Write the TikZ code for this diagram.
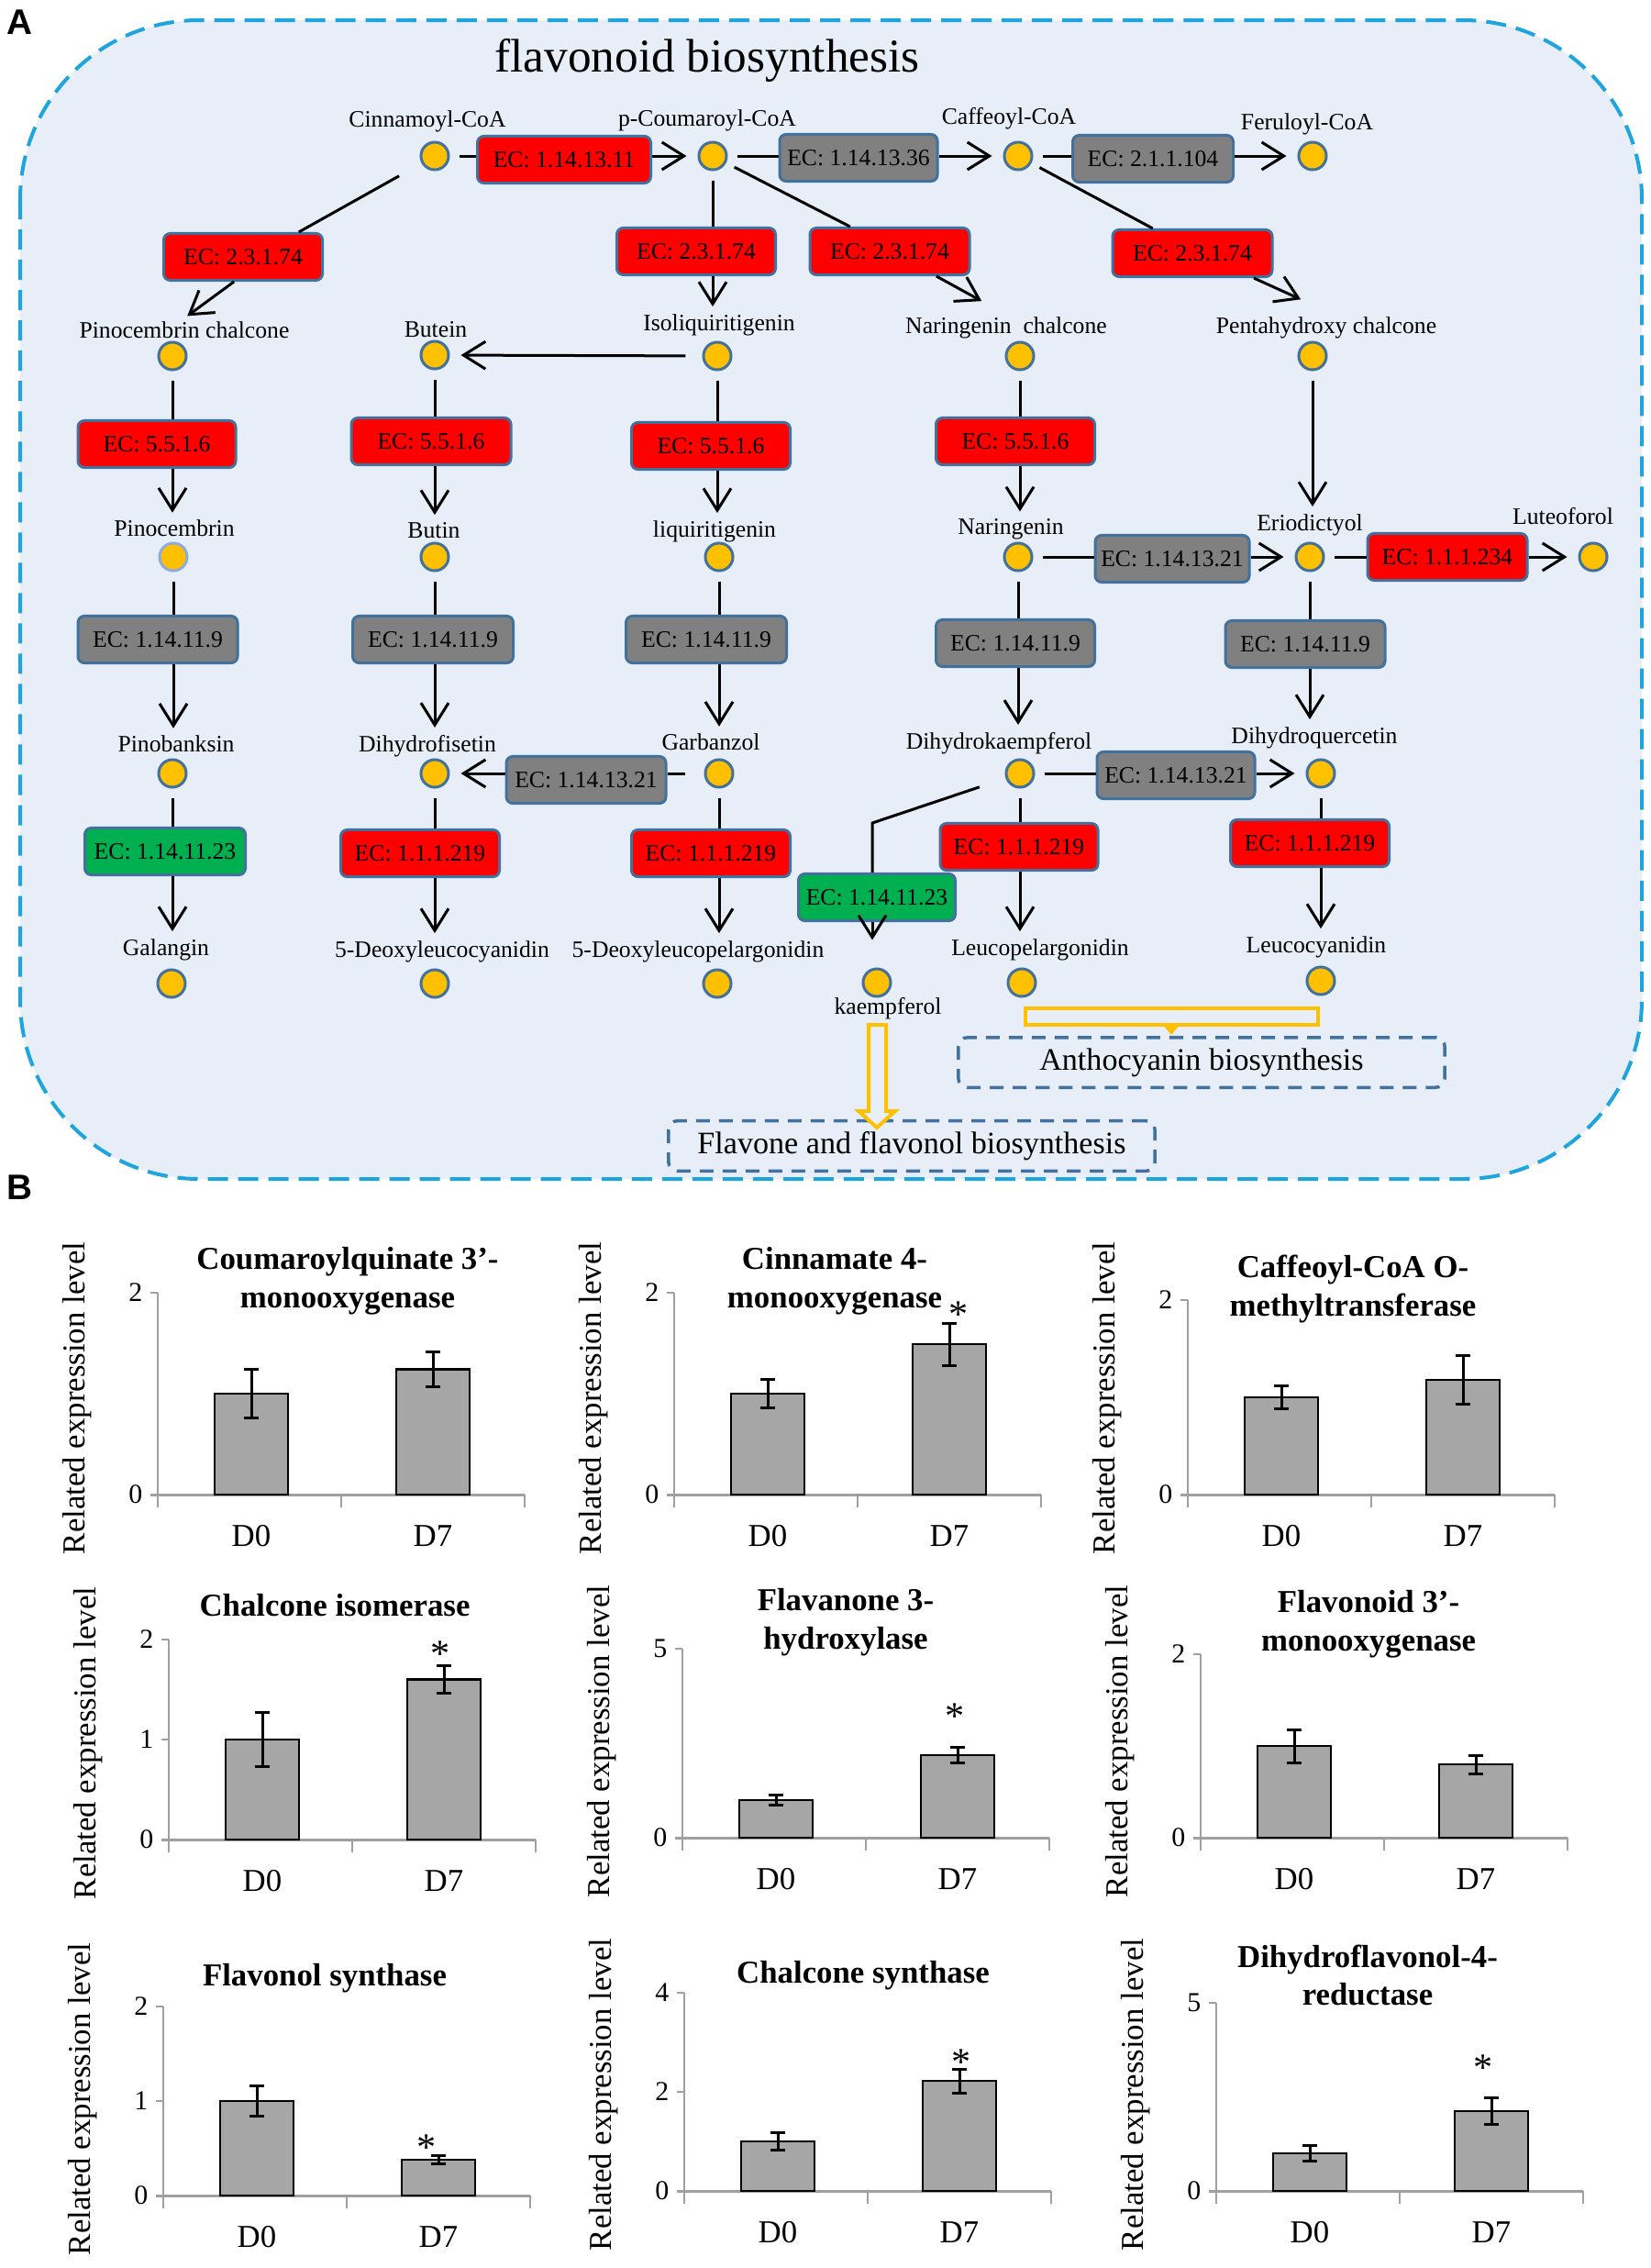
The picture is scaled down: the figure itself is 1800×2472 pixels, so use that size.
\documentclass[tikz,border=0pt]{standalone}
\usepackage{fontspec}
\setmainfont{Liberation Serif}
\newfontfamily\panelsans{Liberation Sans}
\usetikzlibrary{arrows.meta}

\definecolor{bgblue}{HTML}{E7EEF8}
\definecolor{outerdash}{HTML}{1EA5DD}
\definecolor{ecborder}{HTML}{41719C}
\definecolor{paleborder}{HTML}{8FAADC}
\definecolor{redfill}{HTML}{FF0000}
\definecolor{greyfill}{HTML}{808080}
\definecolor{greenfill}{HTML}{00B050}
\definecolor{metfill}{HTML}{FFC000}
\definecolor{barfill}{HTML}{A6A6A6}
\definecolor{axisgrey}{HTML}{A0A0A0}

\newcommand{\ecsize}{\fontsize{7.3pt}{8.5pt}\selectfont}
\newcommand{\pathsize}{\fontsize{9.7pt}{11pt}\selectfont}
\newcommand{\headsize}{\fontsize{14.6pt}{17pt}\selectfont}
\newcommand{\chartsize}{\fontsize{9.9pt}{11.9pt}\selectfont}
\newcommand{\ticksize}{\fontsize{8.5pt}{10pt}\selectfont}

\tikzset{
	outerbox/.style={draw=outerdash, fill=bgblue, line width=0.04cm, dash pattern=on 0.22cm off 0.11cm, rounded corners=1.95cm},
	met/.style={circle, fill=metfill, line width=0.03cm, minimum size=0.3cm, inner sep=0pt},
	mettext/.style={font=\ecsize, inner sep=1pt},
	ec/.style={draw=ecborder, line width=0.03cm, rounded corners=0.07cm, minimum height=0.51cm, inner sep=0pt, font=\ecsize},
	react/.style={line width=0.03cm, shorten <=0.1cm},
	conv/.style={line width=0.03cm, -{Straight Barb[length=0.24cm,width=0.3cm]}, shorten >=0.12cm},
	yellowline/.style={draw=metfill, line width=0.04cm},
	pathbox/.style={draw=ecborder, line width=0.035cm, dash pattern=on 0.15cm off 0.1cm, rounded corners=0.1cm, minimum width=5.3cm, minimum height=0.51cm, font=\pathsize},
	axisline/.style={draw=axisgrey, line width=0.015cm},
	zeroline/.style={draw=axisgrey, line width=0.03cm},
	bar/.style={fill=barfill, draw=black, line width=0.025cm},
	errbar/.style={draw=black, line width=0.03cm},
	ticktext/.style={font=\ticksize, inner sep=0pt},
	cattext/.style={font=\chartsize, inner sep=0pt},
	charttitle/.style={font=\chartsize\bfseries, align=center, inner sep=0pt},
	startext/.style={font=\fontsize{12pt}{14pt}\selectfont, inner sep=0pt}
}

% x of axis, y of zero line, px per unit, ticks, top, D0, D0 error, D7, D7 error
\newcommand{\exprchart}[9]{%
	\begin{scope}[shift={(#1,#2)}]
		%axis
		\draw[axisline] (0,14) -- (0,{-#5*#3});
		\draw[zeroline] (-8,0) -- (400,0);
		\foreach \c in {0,200,400}
		\draw[axisline] (\c,0) -- (\c,14);
		\foreach \t in {#4} {
			\draw[axisline] (-8,{-\t*#3}) -- (0,{-\t*#3});
			\node[ticktext, anchor=east] (tick-#1-#2-\t) at (-16,{-\t*#3}) {\t};
		}
		%bars
		\foreach \bx/\bv/\be/\bn in {102/#6/#7/D0,300/#8/#9/D7} {
			\draw[bar] (\bx-40,0) rectangle (\bx+40,{-\bv*#3});
			\draw[errbar] (\bx,{-(\bv-\be)*#3}) -- (\bx,{-(\bv+\be)*#3});
			\draw[errbar] (\bx-8,{-(\bv-\be)*#3}) -- (\bx+8,{-(\bv-\be)*#3});
			\draw[errbar] (\bx-8,{-(\bv+\be)*#3}) -- (\bx+8,{-(\bv+\be)*#3});
			\node[cattext] (\bn-#1-#2) at (\bx,45) {\bn};
		}
		%label
		\node[cattext, rotate=90] (ylab-#1-#2) at (-88,-105) {Related expression level};
	\end{scope}}

\begin{document}
\begin{tikzpicture}[x=0.01cm, y=-0.01cm]
	\useasboundingbox (0,0) rectangle (1800,2472);
	\fill[white] (0,0) rectangle (1800,2472);
	
	%pathway frame
	\draw[outerbox] (22,22) rectangle (1790,1285);
	\node[font=\headsize] (head) at (771,66) {flavonoid biosynthesis};
	
	%metabolites
	\foreach \n/\x/\y/\lx/\ly/\t/\bc in {
		cin/474/170/466/132/Cinnamoyl-CoA/ecborder,
		pcou/777/170/771/131/p-Coumaroyl-CoA/ecborder,
		caf/1110/170/1100/129/Caffeoyl-CoA/ecborder,
		fer/1431/170/1425/135/Feruloyl-CoA/ecborder,
		pcc/188/388/201/360/Pinocembrin chalcone/ecborder,
		but/474/387/475/359/Butein/ecborder,
		iso/782/388/784/354/Isoliquiritigenin/ecborder,
		ncc/1112/388/1097/357/Naringenin\ \ chalcone/ecborder,
		phc/1431/388/1446/357/Pentahydroxy chalcone/ecborder,
		pin/189/607/190/576/Pinocembrin/paleborder,
		buti/474/607/473/578/Butin/ecborder,
		liq/784/607/779/579/liquiritigenin/ecborder,
		nar/1110/607/1102/577/Naringenin/ecborder,
		eri/1428/607/1428/572/Eriodictyol/ecborder,
		lut/1737/607/1704/563/Luteoforol/ecborder,
		pnb/188/843/192/811/Pinobanksin/ecborder,
		dhf/474/843/466/813/Dihydrofisetin/ecborder,
		gar/784/843/775/809/Garbanzol/ecborder,
		dhk/1112/843/1089/810/Dihydrokaempferol/ecborder,
		dhq/1440/843/1433/804/Dihydroquercetin/ecborder,
		gal/187/1072/181/1035/Galangin/ecborder,
		dlc/474/1072/482/1037/5-Deoxyleucocyanidin/ecborder,
		dlp/782/1072/761/1037/5-Deoxyleucopelargonidin/ecborder,
		kae/956/1071/968/1099/kaempferol/ecborder,
		lpg/1114/1071/1134/1035/Leucopelargonidin/ecborder,
		lcy/1440/1069/1435/1032/Leucocyanidin/ecborder} {
		\node[met, draw=\bc] (\n) at (\x,\y) {};
		\node[mettext] (\n L) at (\lx,\ly) {\t};
	}
	
	%enzymes
	\foreach \n/\c/\w/\x/\y/\t in {
		e1/redfill/189/615/174/EC: 1.14.13.11,
		e2/greyfill/172/936/172/EC: 1.14.13.36,
		e3/greyfill/175/1257/173/EC: 2.1.1.104,
		e4/redfill/173/265/280/EC: 2.3.1.74,
		e5/redfill/173/759/274/EC: 2.3.1.74,
		e6/redfill/174/970/274/EC: 2.3.1.74,
		e7/redfill/174/1300/276/EC: 2.3.1.74,
		e8/redfill/172/171/484/EC: 5.5.1.6,
		e9/redfill/174/470/481/EC: 5.5.1.6,
		e10/redfill/173/775/486/EC: 5.5.1.6,
		e11/redfill/173/1107/481/EC: 5.5.1.6,
		e12/greyfill/168/1278/609/EC: 1.14.13.21,
		e13/redfill/174/1578/607/EC: 1.1.1.234,
		e14/greyfill/174/172/697/EC: 1.14.11.9,
		e15/greyfill/175/472/697/EC: 1.14.11.9,
		e16/greyfill/175/770/697/EC: 1.14.11.9,
		e17/greyfill/173/1107/701/EC: 1.14.11.9,
		e18/greyfill/174/1423/702/EC: 1.14.11.9,
		e19/greenfill/175/180/928/EC: 1.14.11.23,
		e20/redfill/173/458/930/EC: 1.1.1.219,
		e21/greyfill/174/639/850/EC: 1.14.13.21,
		e22/redfill/173/775/930/EC: 1.1.1.219,
		e23/greyfill/172/1282/845/EC: 1.14.13.21,
		e24/redfill/172/1111/923/EC: 1.1.1.219,
		e25/redfill/173/1428/919/EC: 1.1.1.219,
		e26/greenfill/171/956/978/EC: 1.14.11.23}
	\node[ec, fill=\c, minimum width=\w*0.01cm] (\n) at (\x,\y) {\t};
	
	%horizontal steps
	\foreach \a/\e/\b in {cin/e1/pcou, pcou/e2/caf, caf/e3/fer, nar/e12/eri, eri/e13/lut, dhk/e23/dhq} {
		\draw[react] (\a) -- (\a -| \e.west);
		\draw[conv] (\e.east |- \b) -- (\b);
	}
	\draw[react, shorten <=0.2cm] (gar) -- (gar -| e21.east);
	\draw[conv] (e21.west |- dhf) -- (dhf);
	\draw[conv, shorten <=0.18cm] (iso) -- (but);
	
	%vertical steps
	\foreach \a/\e/\b in {pcou/e5/iso, pcc/e8/pin, pin/e14/pnb, pnb/e19/gal, but/e9/buti, buti/e15/dhf, dhf/e20/dlc, iso/e10/liq, liq/e16/gar, gar/e22/dlp, ncc/e11/nar, nar/e17/dhk, dhk/e24/lpg, eri/e18/dhq, dhq/e25/lcy} {
		\draw[react] (\a) -- (\a |- \e.north);
		\draw[conv, shorten >=0.04cm] (\a |- \e.south) -- (\a |- \b L.north);
	}
	\draw[conv, shorten <=0.1cm, shorten >=0.04cm] (phc) -- (phc |- eriL.north);
	
	%diagonal steps
	\draw[react, shorten <=0.28cm] (cin) -- (e4.24);
	\draw[conv, shorten >=0.04cm] (e4.250) -- (pccL.north);
	\draw[react] (pcou) -- (e6.148);
	\draw[conv, shorten >=0.02cm] (e6.-28) -- ([xshift=-0.25cm, yshift=0.12cm]nccL.north);
	\draw[react] (caf) -- (e7.148);
	\draw[conv, shorten >=0.02cm] (e7.-22) -- ([xshift=-0.26cm, yshift=0.14cm]phcL.north);
	\coordinate (kbend) at (951,897);
	\draw[react, shorten <=0.3cm] (dhk) -- (kbend) -- (kbend |- e26.north);
	\draw[conv, shorten >=0.3cm] (kbend |- e26.south) -- (kbend |- kae.north);
	
	%other pathways
	\node[pathbox] (antho) at (1310,1158) {Anthocyanin biosynthesis};
	\node[pathbox] (flavone) at (994,1249) {Flavone and flavonol biosynthesis};
	\draw[yellowline] (1118,1099) rectangle (1437,1117);
	\fill[metfill] (1267,1116) -- (1287,1116) -- (1277,1128) -- cycle;
	\draw[yellowline, fill=bgblue] (947,1117) -- (966,1117) -- (966,1211) -- (976,1211)
	-- (956,1229) -- (936,1211) -- (947,1211) -- cycle;
	
	%expression charts
	\exprchart{172}{1629}{110}{0,2}{2}{1.0}{0.24}{1.24}{0.17}
	\exprchart{735}{1629}{110}{0,2}{2}{1.0}{0.14}{1.49}{0.21}
	\exprchart{1295}{1629}{106}{0,2}{2}{1.0}{0.12}{1.18}{0.25}
	\exprchart{184}{2005}{109}{0,1,2}{2}{1.0}{0.27}{1.6}{0.14}
	\exprchart{744}{2003}{41.2}{0,5}{5}{1.0}{0.13}{2.18}{0.2}
	\exprchart{1309}{2003}{100}{0,2}{2}{1.0}{0.18}{0.8}{0.1}
	\exprchart{178}{2393}{103}{0,1,2}{2}{1.0}{0.16}{0.38}{0.04}
	\exprchart{746}{2388}{54}{0,2,4}{4}{1.0}{0.18}{2.22}{0.24}
	\exprchart{1326}{2388}{41}{0,5}{5}{1.0}{0.2}{2.12}{0.35}
	
	%titles
	\foreach \tx/\ty/\tt [count=\i] in {
		379/1396/{Coumaroylquinate 3'-\\monooxygenase},
		910/1396/{Cinnamate 4-\\monooxygenase},
		1475/1405/{Caffeoyl-CoA O-\\methyltransferase},
		365/1750/{Chalcone isomerase},
		922/1768/{Flavanone 3-\\hydroxylase},
		1492/1770/{Flavonoid 3'-\\monooxygenase},
		354/2156/{Flavonol synthase},
		941/2153/{Chalcone synthase},
		1491/2153/{Dihydroflavonol-4-\\reductase}}
	\node[charttitle] (ctitle\i) at (\tx,\ty) {\tt};
	
	%significance
	\foreach \sx/\sy [count=\i] in {1045/1433, 480/1803, 1041/1871, 465/2341, 1048/2248, 1617/2254}
	\node[startext] (star\i) at (\sx,\sy) {*};
	
	%panel letters
	\node[font={\panelsans\bfseries\fontsize{11pt}{13pt}\selectfont}] (panelA) at (21,24) {A};
	\node[font={\panelsans\bfseries\fontsize{11pt}{13pt}\selectfont}] (panelB) at (21,1294) {B};
\end{tikzpicture}
\end{document}
